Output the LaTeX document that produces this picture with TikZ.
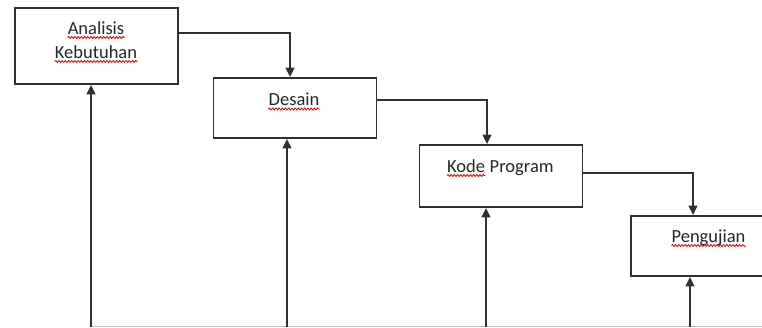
\documentclass[tikz,border=0pt]{standalone}
\usepackage{fontspec}
\setmainfont{Carlito}
\usetikzlibrary{arrows.meta,decorations.pathmorphing}
\definecolor{ink}{HTML}{303030}
\tikzset{
  box/.style={draw=ink, line width=1.9pt, minimum width=163pt, inner sep=0pt},
  conn/.style={draw=ink, line width=1.4pt, -{Triangle[width=9pt,length=9.5pt]}},
  word/.style={inner sep=0pt, text=black!85, font=\fontsize{18.5}{22}\selectfont},
  squig/.style={draw=red!90!black, line width=0.8pt, decorate,
    decoration={snake, amplitude=1pt, segment length=3.2pt}},
  baseline/.style={draw=black!25, line width=1pt}
}
\begin{document}
\begin{tikzpicture}[x=1pt,y=-1pt]
\useasboundingbox (0,0) rectangle (762,327);
\clip (0,0) rectangle (762,327);
% boxes
\node[box, minimum height=76pt] (b1) at (96.5,46) {};
\node[box, minimum height=60pt] (b2) at (295,108) {};
\node[box, minimum height=62pt] (b3) at (501,176) {};
\node[box, minimum height=60pt] (b4) at (712.5,246) {};
% texts
\node[word, anchor=base] (w1) at (96,34) {Analisis};
\node[word, anchor=base] (w2) at (96,58) {Kebutuhan};
\node[word, anchor=base] (w3) at (294,105.5) {Desain};
\node[word, anchor=base west] (w4) at (447,172) {Kode};
\node[word, anchor=base west] (w5) at (w4.base east) {\ Program};
\node[word, anchor=base] (w6) at (708.5,242) {Pengujian};
% spell-check squiggles
\foreach \w in {w1,w2,w3,w4,w6}{
  \draw[squig] ([yshift=-3.5pt]\w.base west) -- ([yshift=-3.5pt]\w.base east);
}
% level coordinates
\coordinate (y1) at (0,33);
\coordinate (y2) at (0,100);
\coordinate (y3) at (0,173);
\coordinate (d1) at (290,0);
\coordinate (d2) at (487,0);
\coordinate (d3) at (693,0);
\coordinate (u1) at (91,326.5);
\coordinate (u2) at (287,326.5);
\coordinate (u3) at (486,326.5);
\coordinate (u4) at (690,326.5);
\coordinate (ue) at (762,326.5);
% forward connectors
\draw[conn] (b1.east |- y1) -| (d1 |- b2.north);
\draw[conn] (b2.east |- y2) -| (d2 |- b3.north);
\draw[conn] (b3.east |- y3) -| (d3 |- b4.north);
% bottom line and feedback arrows
\draw[baseline] (u1) -- (ue);
\draw[conn] (u1) -- (u1 |- b1.south);
\draw[conn] (u2) -- (u2 |- b2.south);
\draw[conn] (u3) -- (u3 |- b3.south);
\draw[conn] (u4) -- (u4 |- b4.south);
\end{tikzpicture}
\end{document}
